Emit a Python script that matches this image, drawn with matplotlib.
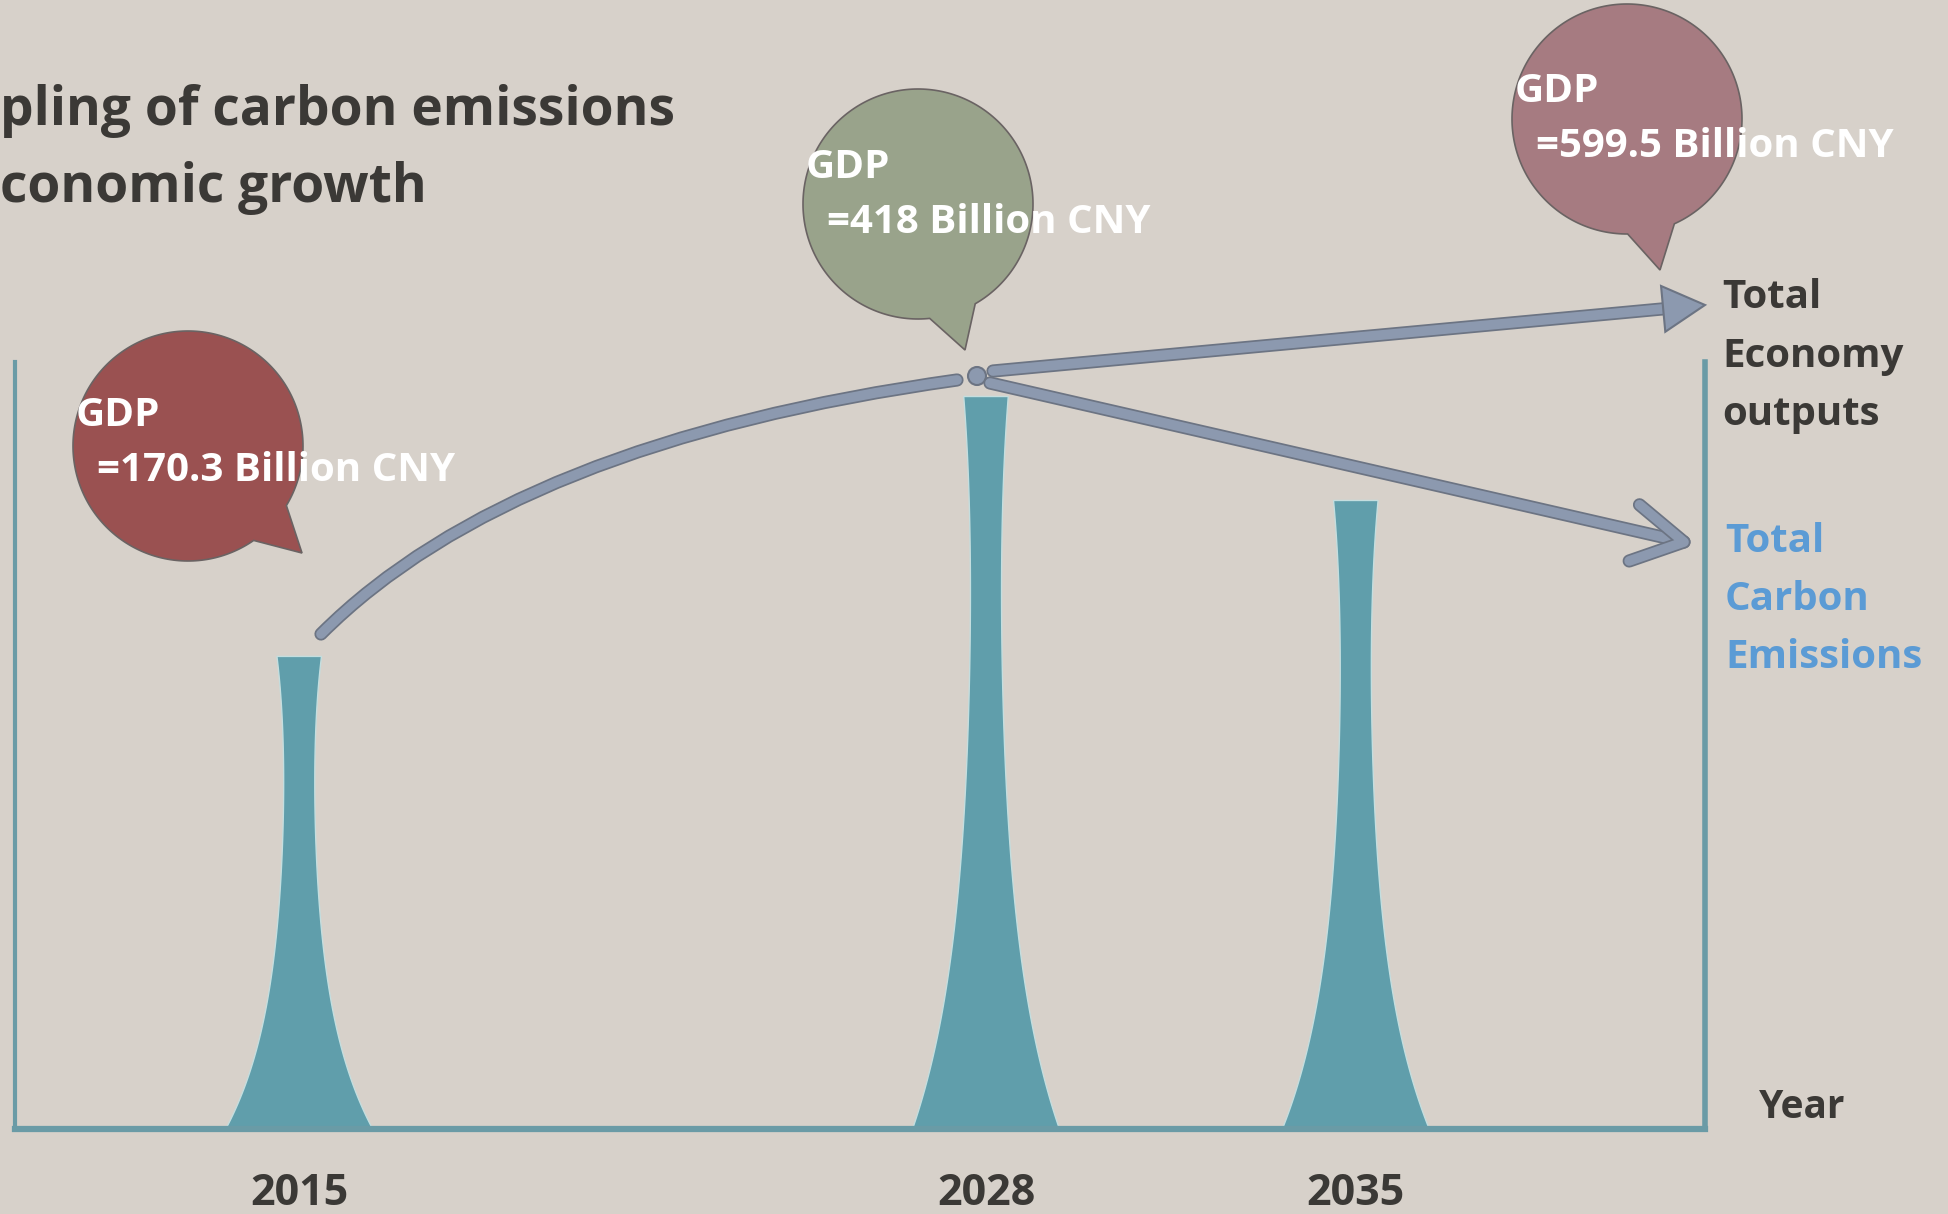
import numpy as np
import matplotlib
matplotlib.use("Agg")
import matplotlib.pyplot as plt
from matplotlib.path import Path
from matplotlib.patches import PathPatch, Circle, Polygon
import matplotlib.patheffects as pe

plt.rcParams["font.family"] = ["Open Sans", "DejaVu Sans"]
plt.rcParams["font.weight"] = "bold"

# ── data ──────────────────────────────────────────────────────────────────────
years = [2015, 2028, 2035]
emission_index = [100, 155, 133]          # total carbon emissions, 2015 = 100
gdp_billion_cny = [170.3, 418, 599.5]
year_labels = [str(y) for y in years]
title_lines = ["pling of carbon emissions", "conomic growth"]
economy_lines = ["Total", "Economy", "outputs"]
carbon_lines = ["Total", "Carbon", "Emissions"]

# ── style ─────────────────────────────────────────────────────────────────────
BG = "#d7d1ca"
TEAL = "#609eab"
AXIS = "#6a9ba6"
DARK = "#3b3936"
BLUE = "#5b9bd5"
ARROW = "#8c99af"
ARROW_EDGE = "#6c7483"
BUBBLE_COLORS = ["#9a5151", "#99a38b", "#a67b81"]

W, H = 1949, 1214
fig = plt.figure(figsize=(W / 100, H / 100), dpi=100, facecolor=BG)

# ── main chart: emission spikes ───────────────────────────────────────────────
ax = fig.add_axes([15 / W, 1 - 1129 / H, (1705 - 15) / W, (1129 - 362) / H])
ax.patch.set_alpha(0)
ax.set_xlim(2009.62, 2041.61)
ax.set_ylim(0, 162.3)

t = np.linspace(0, 1, 300)
half = 0.20 + 1.19 * np.exp(-t / 0.25) + 0.2 * t ** 6
for yr, e in zip(years, emission_index):
    xs = np.concatenate([yr - half, (yr + half)[::-1]])
    ys = np.concatenate([t * e, (t * e)[::-1]])
    ax.fill(xs, ys, color=TEAL, ec="#c4dedf", lw=1.0, zorder=2)

ax.spines["top"].set_visible(False)
for side, lw in [("left", 3), ("right", 4), ("bottom", 4.5)]:
    ax.spines[side].set_color(AXIS)
    ax.spines[side].set_linewidth(lw)
ax.set_yticks([])
ax.set_xticks(years, year_labels)
ax.tick_params(axis="x", length=0, pad=31, labelsize=31, labelcolor=DARK)

# ── overlay in pixel space for annotations ────────────────────────────────────
ov = fig.add_axes([0, 0, 1, 1])
ov.set_xlim(0, W)
ov.set_ylim(H, 0)
ov.axis("off")
ov.patch.set_alpha(0)

# title (starts at the left edge as in the source slide)
ov.text(0, 125, title_lines[0], fontsize=38.3, color=DARK, va="baseline")
ov.text(0, 202, title_lines[1], fontsize=38.3, color=DARK, va="baseline")

# speech bubbles with GDP values
bubble_centers = [(188, 446), (918, 204), (1627, 119)]
bubble_tips = [(302, 553), (965, 350), (1660, 270)]
text_shift = [(0, 2), (0, -4), (0, 5)]
R = 115
for (cx, cy), tip, col, g, (dx, dy) in zip(bubble_centers, bubble_tips,
                                           BUBBLE_COLORS, gdp_billion_cny,
                                           text_shift):
    phi = np.degrees(np.arctan2(tip[1] - cy, tip[0] - cx))
    angs = np.radians(np.linspace(phi + 12, phi - 12 + 360, 240))
    pts = list(zip(cx + R * np.cos(angs), cy + R * np.sin(angs))) + [tip]
    ov.add_patch(Polygon(pts, closed=True, fc=col, ec="#6a6363", lw=1.2,
                         zorder=3))
    ov.text(cx - R + 3 + dx, cy - 22 + dy, "GDP", fontsize=29, color="white",
            va="baseline", zorder=4)
    ov.text(cx - R + 24 + dx, cy + 33 + dy, f"={g:g} Billion CNY",
            fontsize=29, color="white", va="baseline", zorder=4)

# economy curve, node and arrows
stroke = [pe.Stroke(linewidth=9.5, foreground=ARROW_EDGE), pe.Normal()]
curve = Path([(321, 634), (513, 442), (957, 380)],
             [Path.MOVETO, Path.CURVE3, Path.CURVE3])
ov.add_patch(PathPatch(curve, fill=False, ec=ARROW, lw=7, capstyle="round",
                       path_effects=stroke, zorder=3))
ov.add_patch(Circle((977, 376), 9, fc=ARROW, ec=ARROW_EDGE, lw=1.5, zorder=3))

# arrow to total economy outputs (filled head)
p0 = np.array([993, 371.0])
tip1 = np.array([1705, 305.0])
u = (tip1 - p0) / np.linalg.norm(tip1 - p0)
n = np.array([-u[1], u[0]])
ov.plot([p0[0], (tip1 - 36 * u)[0]], [p0[1], (tip1 - 36 * u)[1]], color=ARROW,
        lw=7, solid_capstyle="round", path_effects=stroke, zorder=3)
head = [tip1, tip1 - 42 * u + 23 * n, tip1 - 42 * u - 23 * n]
ov.add_patch(Polygon(head, closed=True, fc=ARROW, ec=ARROW_EDGE, lw=1.5,
                     zorder=3))

# arrow to total carbon emissions (open head)
p1 = np.array([990, 383.0])
tip2 = np.array([1684, 542.0])
v = (tip2 - p1) / np.linalg.norm(tip2 - p1)


def rot(vec, deg):
    a = np.radians(deg)
    return np.array([vec[0] * np.cos(a) - vec[1] * np.sin(a),
                     vec[0] * np.sin(a) + vec[1] * np.cos(a)])


arm1 = tip2 - 58 * rot(v, -32)
arm2 = tip2 - 58 * rot(v, 27)
ov.plot([p1[0], tip2[0]], [p1[1], tip2[1]], color=ARROW, lw=7,
        solid_capstyle="round", path_effects=stroke, zorder=3)
ov.plot([arm1[0], tip2[0], arm2[0]], [arm1[1], tip2[1], arm2[1]], color=ARROW,
        lw=7, solid_capstyle="round", solid_joinstyle="round",
        path_effects=stroke, zorder=3)

# right-hand labels
for i, s in enumerate(economy_lines):
    ov.text(1722, 308 + 58.5 * i, s, fontsize=29, color=DARK, va="baseline")
for i, s in enumerate(carbon_lines):
    ov.text(1725, 552 + 58 * i, s, fontsize=29, color=BLUE, va="baseline")
ov.text(1759, 1118, "Year", fontsize=28, color=DARK, va="baseline")

fig.savefig("out.png", dpi=100, facecolor=BG)
